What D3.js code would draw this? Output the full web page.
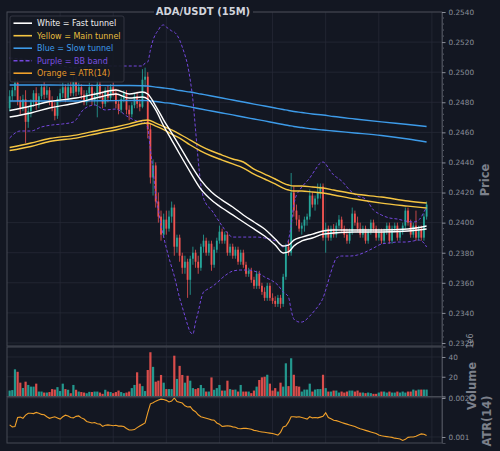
<!DOCTYPE html>
<meta charset="utf-8">
<script src="https://d3js.org/d3.v7.min.js"></script>
<style>
  body { margin: 0; background: #131722; }
  text { font-family: "DejaVu Sans", sans-serif; }
</style>
<div id="chart"></div>
<script>

// candles (15M), index 0..157
var opens = [.2476,.2484,.2488,.2493,.2481,.2476,.2482,.2467,.2474,.2480,
  .2486,.2478,.2484,.2490,.2485,.2488,.2481,.2476,.2471,.2482,
  .2486,.2490,.2483,.2490,.2486,.2494,.2487,.2490,.2485,.2480,
  .2486,.2490,.2481,.2484,.2492,.2485,.2479,.2488,.2483,.2490,
  .2486,.2479,.2475,.2482,.2486,.2475,.2472,.2478,.2484,.2479,
  .2477,.2495,.2497,.2462,.2430,.2438,.2414,.2404,.2392,.2402,
  .2396,.2404,.2410,.2384,.2390,.2378,.2370,.2374,.2362,.2376,
  .2380,.2374,.2370,.2384,.2388,.2380,.2386,.2372,.2382,.2388,
  .2394,.2388,.2392,.2380,.2384,.2378,.2382,.2374,.2380,.2372,
  .2366,.2368,.2362,.2358,.2366,.2358,.2354,.2350,.2358,.2350,
  .2348,.2346,.2350,.2346,.2364,.2384,.2380,.2420,.2408,.2402,
  .2396,.2398,.2402,.2404,.2418,.2412,.2416,.2420,.2424,.2390,
  .2396,.2390,.2396,.2392,.2398,.2402,.2396,.2392,.2388,.2394,
  .2406,.2400,.2396,.2392,.2396,.2388,.2394,.2400,.2396,.2390,
  .2394,.2388,.2394,.2398,.2388,.2396,.2398,.2390,.2394,.2398,
  .2408,.2400,.2392,.2398,.2390,.2396,.2390,.2404];
var highs = [.2488,.2490,.2496,.2495,.2484,.2485,.2488,.2477,.2482,.2488,
  .2490,.2486,.2492,.2494,.2491,.2490,.2484,.2480,.2484,.2489,
  .2493,.2492,.2493,.2494,.2498,.2497,.2493,.2492,.2488,.2488,
  .2493,.2492,.2487,.2497,.2494,.2487,.2490,.2491,.2492,.2493,
  .2489,.2481,.2484,.2488,.2488,.2478,.2480,.2486,.2487,.2482,
  .2502,.2503,.2500,.2466,.2442,.2440,.2420,.2408,.2406,.2408,
  .2408,.2414,.2412,.2392,.2392,.2380,.2378,.2376,.2378,.2384,
  .2382,.2378,.2386,.2392,.2390,.2388,.2388,.2384,.2390,.2398,
  .2396,.2394,.2394,.2386,.2386,.2384,.2384,.2382,.2382,.2374,
  .2370,.2370,.2364,.2368,.2368,.2360,.2357,.2360,.2360,.2353,
  .2351,.2352,.2352,.2366,.2386,.2388,.2433,.2424,.2412,.2405,
  .2400,.2404,.2406,.2422,.2420,.2418,.2426,.2426,.2426,.2400,
  .2398,.2398,.2399,.2400,.2405,.2404,.2398,.2396,.2396,.2410,
  .2408,.2404,.2400,.2398,.2398,.2396,.2402,.2402,.2398,.2396,
  .2396,.2396,.2400,.2400,.2398,.2400,.2400,.2396,.2400,.2410,
  .2410,.2402,.2400,.2408,.2398,.2398,.2406,.2414];
var lows = [.2474,.2481,.2484,.2478,.2472,.2474,.2453,.2463,.2470,.2477,
  .2475,.2476,.2482,.2482,.2483,.2478,.2474,.2468,.2469,.2480,
  .2483,.2480,.2481,.2484,.2484,.2484,.2485,.2482,.2478,.2478,
  .2484,.2478,.2478,.2470,.2482,.2476,.2477,.2480,.2481,.2484,
  .2476,.2472,.2473,.2480,.2472,.2468,.2470,.2476,.2476,.2474,
  .2476,.2490,.2456,.2426,.2418,.2410,.2400,.2388,.2390,.2392,
  .2394,.2400,.2378,.2380,.2374,.2366,.2366,.2350,.2352,.2372,
  .2370,.2366,.2368,.2380,.2378,.2378,.2368,.2370,.2380,.2386,
  .2386,.2386,.2378,.2378,.2376,.2376,.2372,.2372,.2370,.2364,
  .2364,.2360,.2356,.2356,.2356,.2352,.2348,.2348,.2348,.2346,
  .2344,.2344,.2343,.2344,.2362,.2378,.2378,.2404,.2398,.2394,
  .2392,.2394,.2398,.2402,.2410,.2408,.2412,.2416,.2388,.2380,
  .2388,.2388,.2390,.2390,.2396,.2394,.2390,.2386,.2386,.2392,
  .2398,.2394,.2390,.2390,.2386,.2386,.2392,.2394,.2388,.2388,
  .2386,.2386,.2392,.2386,.2386,.2394,.2388,.2388,.2392,.2396,
  .2398,.2390,.2390,.2388,.2388,.2388,.2388,.2402];
var closes = [.2484,.2488,.2493,.2481,.2476,.2482,.2467,.2474,.2480,.2486,
  .2478,.2484,.2490,.2485,.2488,.2481,.2476,.2471,.2482,.2486,
  .2490,.2483,.2490,.2486,.2494,.2487,.2490,.2485,.2480,.2486,
  .2490,.2481,.2484,.2492,.2485,.2479,.2488,.2483,.2490,.2486,
  .2479,.2475,.2482,.2486,.2475,.2472,.2478,.2484,.2479,.2477,
  .2495,.2497,.2462,.2430,.2438,.2414,.2404,.2392,.2402,.2396,
  .2404,.2410,.2384,.2390,.2378,.2370,.2374,.2362,.2376,.2380,
  .2374,.2370,.2384,.2388,.2380,.2386,.2372,.2382,.2388,.2394,
  .2388,.2392,.2380,.2384,.2378,.2382,.2374,.2380,.2372,.2366,
  .2368,.2362,.2358,.2366,.2358,.2354,.2350,.2358,.2350,.2348,
  .2346,.2350,.2346,.2364,.2384,.2380,.2420,.2408,.2402,.2396,
  .2398,.2402,.2404,.2418,.2412,.2416,.2420,.2424,.2390,.2396,
  .2390,.2396,.2392,.2398,.2402,.2396,.2392,.2388,.2394,.2406,
  .2400,.2396,.2392,.2396,.2388,.2394,.2400,.2396,.2390,.2394,
  .2388,.2394,.2398,.2388,.2396,.2398,.2390,.2394,.2398,.2408,
  .2400,.2392,.2398,.2390,.2396,.2390,.2404,.2412];

// volume in millions (axis offset 1e6)
var volumes = [6,6.5,27.5,25,14,8.6,15,11.7,10,10,
  13,5,5,4,4,4.5,7.5,7,9.5,5.5,
  13,7.5,6.8,3.3,11.7,6.8,5,4.5,4,3.3,
  4.7,4.5,5,5,4,2.7,6.8,5,4.5,3.4,
  4.5,6,4.5,3.4,4,5,8.5,11.7,24.5,13,
  10.5,5.5,26.8,44.8,30,15,16,21.8,14,7.5,
  7.5,7.5,41.3,17.8,31,21.8,14,21,16,8.5,
  7.5,8.5,11.7,8.5,5,5,19.3,6.8,8.5,11.7,
  6,6,16,7.5,6.8,7,5,11.7,5,5,
  5,3.4,6,10,16.7,19.4,20,22,13,6,
  8.5,5,14,10,33.6,10.5,38.7,22,10.5,10,
  5,7,7,13,5,7,7.5,7.5,22,8.5,
  5,5,6,6,4,5,4,5,6,6,
  5,6,4,4,3.4,4,3.4,2.7,2.7,4,
  5,5,4,5,4,4,5,4,5,4,
  5,5,7,6,7,7,7,7];

// ATR(14)
var atr = [.00131,.00126,.00127,.00150,.00151,.00148,.00156,.00161,.00161,.00160,
  .00163,.00161,.00158,.00157,.00152,.00148,.00150,.00152,.00149,.00146,
  .00152,.00156,.00154,.00150,.00149,.00153,.00154,.00149,.00146,.00140,
  .00138,.00136,.00137,.00134,.00133,.00127,.00130,.00131,.00130,.00129,
  .00130,.00128,.00128,.00127,.00122,.00118,.00118,.00119,.00124,.00128,
  .00132,.00136,.00162,.00185,.00188,.00192,.00195,.00197,.00196,.00194,
  .00190,.00192,.00200,.00191,.00189,.00187,.00180,.00177,.00178,.00169,
  .00165,.00157,.00152,.00150,.00148,.00146,.00144,.00143,.00136,.00133,
  .00127,.00128,.00129,.00128,.00126,.00125,.00122,.00121,.00122,.00122,
  .00121,.00120,.00117,.00116,.00114,.00113,.00112,.00111,.00110,.00109,
  .00107,.00105,.00112,.00126,.00128,.00138,.00152,.00152,.00151,.00152,
  .00150,.00148,.00146,.00152,.00149,.00150,.00149,.00151,.00153,.00162,
  .00150,.00147,.00143,.00142,.00140,.00137,.00135,.00133,.00131,.00129,
  .00127,.00124,.00121,.00119,.00117,.00115,.00113,.00111,.00109,.00105,
  .00103,.00102,.00101,.00100,.00099,.00097,.00096,.00095,.00091,.00094,
  .00099,.00100,.00100,.00102,.00105,.00108,.00107,.00104];

// tunnels, read at these candle indices
var tunnelIdx = [0,8,15,25,34,40,45,50,52,55,58,61,64,68,72,76,80,84,88,92,96,100,103,105,107,110,114,118,122,130,140,150,157];
var fastA = [.24745,.24775,.24805,.24828,.24862,.24882,.24855,.24868,.24855,.24775,.24682,.24596,.24509,.24390,.24283,.24204,.24150,.24104,.24051,.24004,.23958,.23891,.23845,.23851,.23884,.23904,.23924,.23944,.23951,.23951,.23951,.23958,.23978];
var fastB = [.24702,.24729,.24762,.24795,.24835,.24855,.24828,.24835,.24822,.24749,.24642,.24549,.24456,.24336,.24223,.24150,.24097,.24051,.24004,.23958,.23911,.23851,.23798,.23805,.23845,.23878,.23898,.23924,.23931,.23938,.23938,.23944,.23958];
var mainA = [.24499,.24529,.24559,.24582,.24616,.24636,.24656,.24679,.24682,.24662,.24639,.24616,.24589,.24549,.24509,.24476,.24449,.24423,.24403,.24356,.24323,.24290,.24263,.24250,.24243,.24243,.24237,.24230,.24217,.24190,.24170,.24144,.24130];
var mainB = [.24479,.24506,.24539,.24562,.24596,.24616,.24636,.24659,.24662,.24642,.24619,.24589,.24562,.24516,.24476,.24443,.24416,.24390,.24363,.24323,.24290,.24257,.24230,.24217,.24210,.24210,.24204,.24197,.24184,.24157,.24130,.24110,.24097];
var slowA = [.24915,.24915,.24915,.24913,.24912,.24911,.24911,.24910,.24908,.24901,.24895,.24888,.24878,.24868,.24855,.24842,.24828,.24815,.24802,.24788,.24775,.24762,.24752,.24745,.24739,.24732,.24722,.24715,.24705,.24689,.24670,.24652,.24639];
var slowB = [.24808,.24808,.24808,.24808,.24810,.24811,.24812,.24812,.24811,.24805,.24798,.24792,.24782,.24769,.24755,.24742,.24729,.24716,.24702,.24689,.24676,.24662,.24652,.24646,.24639,.24632,.24622,.24616,.24609,.24596,.24579,.24556,.24536];

// Bollinger band, read at these candle indices
var bbIdx = [0,4,8,12,16,20,24,28,32,36,40,44,48,50,51,52,53,54,55,56,57,58,59,60,61,62,63,64,65,66,67,68,69,70,71,72,73,74,76,78,80,82,84,87,90,93,96,99,101,103,104,105,106,107,108,109,110,111,113,115,117,118,119,120,121,122,123,125,128,131,134,137,140,143,146,149,152,154,155,156,157];
var bbUpper = [.25094,.25088,.25081,.25068,.25054,.25041,.25028,.25034,.25041,.25041,.25041,.25041,.25041,.25041,.25061,.25068,.25147,.25214,.25254,.25280,.25307,.25314,.25300,.25287,.25274,.25267,.25247,.25214,.25167,.25114,.25048,.24948,.24815,.24616,.24416,.24250,.24164,.24124,.24084,.24031,.23978,.23931,.23904,.23904,.23904,.23904,.23898,.23885,.23871,.23838,.23844,.23885,.23984,.24117,.24184,.24210,.24237,.24257,.24297,.24350,.24396,.24403,.24390,.24363,.24337,.24317,.24303,.24277,.24217,.24177,.24157,.24084,.24051,.24031,.24024,.24011,.24004,.24017,.24037,.24071,.24104];
var bbLower = [.24563,.24609,.24609,.24636,.24649,.24656,.24669,.24755,.24782,.24749,.24755,.24709,.24675,.24669,.24662,.24629,.24483,.24350,.24184,.24084,.23984,.23904,.23831,.23765,.23705,.23645,.23572,.23499,.23439,.23379,.23320,.23273,.23260,.23339,.23406,.23486,.23539,.23552,.23572,.23599,.23632,.23659,.23678,.23685,.23685,.23672,.23639,.23612,.23585,.23539,.23526,.23506,.23419,.23359,.23346,.23339,.23339,.23346,.23379,.23419,.23466,.23499,.23552,.23612,.23672,.23725,.23765,.23778,.23778,.23785,.23805,.23831,.23858,.23865,.23871,.23871,.23878,.23885,.23878,.23865,.23838];

// axis ticks
var priceTicks = [0.2320,0.2340,0.2360,0.2380,0.2400,0.2420,0.2440,0.2460,0.2480,0.2500,0.2520,0.2540];
var volTicks = [0,20,40];
var atrTicks = [0.001,0.002];
var timeTicks = [19,39,59,79,99,119,139,159];

var legendItems = [
  {label: "White = Fast tunnel", color: "#ffffff", text: "#f0f0f0", dash: null},
  {label: "Yellow = Main tunnel", color: "#f5c542", text: "#e6bd3e", dash: null},
  {label: "Blue = Slow tunnel", color: "#3d9be9", text: "#3d9be9", dash: null},
  {label: "Purple = BB band", color: "#7447dd", text: "#7a4fe0", dash: "4,2"},
  {label: "Orange = ATR(14)", color: "#f0a02a", text: "#e89a2a", dash: null}
];

var BG = "#131722", GRID = "#262a36", FRAME = "#464a55", TICK = "#8a8e99";
var UP = "#26a69a", DOWN = "#ef5350";

var width = 500, height = 451;
var left = 7, right = 442;
var pMain = {top: 12, bottom: 346},
    pVol = {top: 347, bottom: 396.5},
    pAtr = {top: 397, bottom: 443};

var svg = d3.select("#chart").append("svg")
  .attr("width", width).attr("height", height)
  .style("display", "block");
svg.append("rect").attr("width", width).attr("height", height).attr("fill", BG);

var x = d3.scaleLinear().domain([-1, 162.8]).range([left, right]);
var y = d3.scaleLinear().domain([0.23180, 0.2540]).range([pMain.bottom, pMain.top]);
var yv = d3.scaleLinear().domain([0, 50.1]).range([pVol.bottom, pVol.top]);
var ya = d3.scaleLinear().domain([0.000846, 0.002026]).range([pAtr.bottom, pAtr.top]);

// clip paths
var defs = svg.append("defs");
[["clipMain", pMain], ["clipVol", pVol], ["clipAtr", pAtr]].forEach(function(c) {
  defs.append("clipPath").attr("id", c[0]).append("rect")
    .attr("x", left).attr("y", c[1].top)
    .attr("width", right - left).attr("height", c[1].bottom - c[1].top);
});

// grids
function vgrid(p) {
  svg.append("g").selectAll("line").data(timeTicks).enter().append("line")
    .attr("x1", function(d) { return x(d); }).attr("x2", function(d) { return x(d); })
    .attr("y1", p.top).attr("y2", p.bottom)
    .attr("stroke", GRID).attr("stroke-width", 0.8);
}
vgrid(pMain); vgrid(pVol); vgrid(pAtr);
svg.append("g").selectAll("line").data(priceTicks).enter().append("line")
  .attr("x1", left).attr("x2", right)
  .attr("y1", function(d) { return y(d); }).attr("y2", function(d) { return y(d); })
  .attr("stroke", GRID).attr("stroke-width", 0.8);
svg.append("g").selectAll("line").data(volTicks.slice(1)).enter().append("line")
  .attr("x1", left).attr("x2", right)
  .attr("y1", function(d) { return yv(d); }).attr("y2", function(d) { return yv(d); })
  .attr("stroke", GRID).attr("stroke-width", 0.8);
svg.append("g").selectAll("line").data(atrTicks).enter().append("line")
  .attr("x1", left).attr("x2", right)
  .attr("y1", function(d) { return ya(d); }).attr("y2", function(d) { return ya(d); })
  .attr("stroke", GRID).attr("stroke-width", 0.8);

// candles
var candles = closes.map(function(c, i) {
  return {i: i, o: opens[i], h: highs[i], l: lows[i], c: c, v: volumes[i]};
});
var gMain = svg.append("g").attr("clip-path", "url(#clipMain)");
var gc = gMain.append("g");
gc.selectAll("line").data(candles).enter().append("line")
  .attr("x1", function(d) { return x(d.i); }).attr("x2", function(d) { return x(d.i); })
  .attr("y1", function(d) { return y(d.h); }).attr("y2", function(d) { return y(d.l); })
  .attr("stroke", function(d) { return d.c >= d.o ? UP : DOWN; })
  .attr("stroke-width", 0.8);
gc.selectAll("rect").data(candles).enter().append("rect")
  .attr("x", function(d) { return x(d.i) - 0.9; })
  .attr("width", 1.8)
  .attr("y", function(d) { return y(Math.max(d.o, d.c)); })
  .attr("height", function(d) { return Math.max(0.8, Math.abs(y(d.o) - y(d.c))); })
  .attr("fill", function(d) { return d.c >= d.o ? UP : DOWN; });

// indicator lines
function pts(idx, vals) { return idx.map(function(k, j) { return [k, vals[j]]; }); }
var line = d3.line().x(function(d) { return x(d[0]); }).y(function(d) { return y(d[1]); })
  .curve(d3.curveMonotoneX);

[bbUpper, bbLower].forEach(function(s) {
  gMain.append("path").datum(pts(bbIdx, s)).attr("d", line)
    .attr("fill", "none").attr("stroke", "#7447dd").attr("stroke-width", 1)
    .attr("stroke-dasharray", "3,2");
});
[slowA, slowB].forEach(function(s) {
  gMain.append("path").datum(pts(tunnelIdx, s)).attr("d", line)
    .attr("fill", "none").attr("stroke", "#3d9be9").attr("stroke-width", 1.4);
});
[mainA, mainB].forEach(function(s) {
  gMain.append("path").datum(pts(tunnelIdx, s)).attr("d", line)
    .attr("fill", "none").attr("stroke", "#f5c542").attr("stroke-width", 1.4);
});
[fastA, fastB].forEach(function(s) {
  gMain.append("path").datum(pts(tunnelIdx, s)).attr("d", line)
    .attr("fill", "none").attr("stroke", "#ffffff").attr("stroke-width", 1.4);
});

// volume bars
svg.append("g").attr("clip-path", "url(#clipVol)")
  .selectAll("rect").data(candles).enter().append("rect")
  .attr("x", function(d) { return x(d.i) - 1.1; })
  .attr("width", 2.2)
  .attr("y", function(d) { return yv(d.v); })
  .attr("height", function(d) { return yv(0) - yv(d.v); })
  .attr("fill", function(d) { return d.c >= d.o ? UP : DOWN; })
  .attr("opacity", 0.9);

// ATR line
svg.append("g").attr("clip-path", "url(#clipAtr)").append("path")
  .datum(atr)
  .attr("d", d3.line().x(function(d, i) { return x(i); }).y(function(d) { return ya(d); }))
  .attr("fill", "none").attr("stroke", "#f0a02a").attr("stroke-width", 1.1);

// panel frames
[pMain, pVol, pAtr].forEach(function(p) {
  svg.append("rect").attr("x", left).attr("y", p.top)
    .attr("width", right - left).attr("height", p.bottom - p.top)
    .attr("fill", "none").attr("stroke", FRAME).attr("stroke-width", 1);
});

// right axes
function rightAxis(scale, ticks, fmt) {
  var g = svg.append("g").attr("transform", "translate(" + right + ",0)")
    .call(d3.axisRight(scale).tickValues(ticks).tickFormat(fmt).tickSize(3.5).tickPadding(3));
  g.select(".domain").attr("stroke", FRAME);
  g.selectAll(".tick line").attr("stroke", TICK);
  g.selectAll(".tick text").attr("fill", TICK).style("font-size", "7.3px")
    .style("font-family", "DejaVu Sans");
  return g;
}
var minor = d3.range(0, 56).map(function(k) { return 0.2320 + k * 0.0004; })
  .filter(function(v) { return v <= 0.25401 && Math.abs((v - 0.2320) / 0.002 - Math.round((v - 0.2320) / 0.002)) > 0.01; });
svg.append("g").selectAll("line").data(minor).enter().append("line")
  .attr("x1", right).attr("x2", right + 2)
  .attr("y1", function(d) { return y(d); }).attr("y2", function(d) { return y(d); })
  .attr("stroke", TICK).attr("stroke-width", 0.6);
rightAxis(y, priceTicks, d3.format(".4f"));
// the volume "0" sits under the ATR "0.002" label, so only its tick mark is drawn
rightAxis(yv, volTicks, function(d) { return d === 0 ? "" : d3.format("d")(d); });
rightAxis(ya, atrTicks, d3.format(".3f"));

// axis labels
function vlabel(txt, cx, cy, size) {
  svg.append("text").attr("transform", "translate(" + cx + "," + cy + ") rotate(-90)")
    .attr("text-anchor", "middle").attr("dy", "0.35em")
    .style("font-size", size).style("font-weight", "bold").attr("fill", "#7c808b")
    .text(txt);
}
vlabel("Price", 485, 180, "11.5px");
vlabel("Volume", 472, 386, "11.5px");
vlabel("ATR(14)", 487, 421, "11.5px");
svg.append("text").attr("transform", "translate(470,341) rotate(-90)")
  .attr("text-anchor", "middle").attr("dy", "0.35em")
  .style("font-size", "8px").attr("fill", TICK).text("1e6");

// title
svg.append("rect").attr("x", 154).attr("y", 4).attr("width", 99).attr("height", 13).attr("fill", BG);
svg.append("text").attr("x", 203).attr("y", 15).attr("text-anchor", "middle")
  .style("font-size", "10px").style("font-weight", "bold").attr("fill", "#d1d4dc")
  .text("ADA/USDT (15M)");

// legend
var lg = svg.append("g").attr("transform", "translate(10,16)");
lg.append("rect").attr("width", 114).attr("height", 66).attr("rx", 2)
  .attr("fill", "#151923").attr("fill-opacity", 0.92)
  .attr("stroke", "#3a3e49").attr("stroke-width", 0.8);
legendItems.forEach(function(d, k) {
  var yy = 7.2 + k * 12.5;
  lg.append("line").attr("x1", 3.5).attr("x2", 22).attr("y1", yy).attr("y2", yy)
    .attr("stroke", d.color).attr("stroke-width", 1.6)
    .attr("stroke-dasharray", d.dash);
  lg.append("text").attr("x", 27).attr("y", yy).attr("dy", "0.35em")
    .style("font-size", "8px").attr("fill", d.text).text(d.label);
});

</script>
